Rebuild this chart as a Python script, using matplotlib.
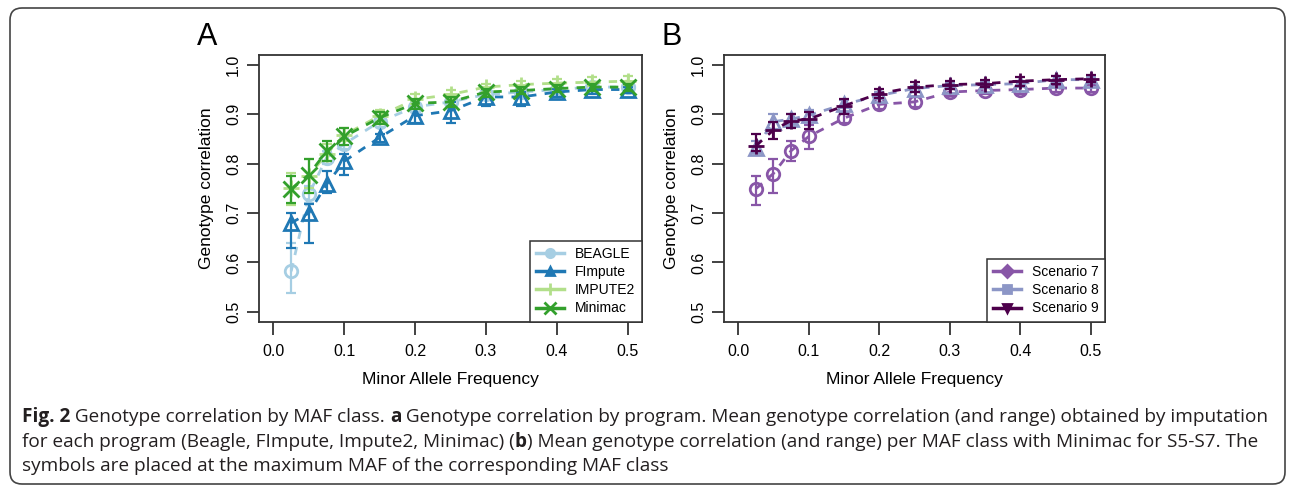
import matplotlib; matplotlib.use('Agg')
import matplotlib.pyplot as plt
from matplotlib.lines import Line2D
from matplotlib.patches import FancyBboxPatch
from matplotlib import font_manager

# MAF classes (symbols placed at max MAF of class)
maf = [0.025, 0.05, 0.075, 0.1, 0.15, 0.2, 0.25, 0.3, 0.35, 0.4, 0.45, 0.5]

# panel A : by program
beagle_mean = [0.582, 0.738, 0.812, 0.840, 0.885, 0.915, 0.925, 0.940, 0.945, 0.950, 0.955, 0.955]
beagle_lo   = [0.538, 0.720, 0.800, 0.830, 0.875, 0.905, 0.915, 0.930, 0.935, 0.940, 0.945, 0.948]
beagle_hi   = [0.640, 0.755, 0.825, 0.852, 0.895, 0.925, 0.935, 0.950, 0.955, 0.958, 0.962, 0.962]
fimpute_mean = [0.680, 0.700, 0.758, 0.805, 0.853, 0.897, 0.907, 0.935, 0.935, 0.945, 0.950, 0.950]
fimpute_lo   = [0.630, 0.640, 0.740, 0.776, 0.843, 0.882, 0.882, 0.917, 0.916, 0.935, 0.940, 0.943]
fimpute_hi   = [0.700, 0.718, 0.785, 0.820, 0.860, 0.910, 0.925, 0.945, 0.945, 0.952, 0.957, 0.955]
impute2_mean = [0.750, 0.775, 0.820, 0.858, 0.897, 0.930, 0.940, 0.955, 0.960, 0.963, 0.965, 0.967]
impute2_lo   = [0.717, 0.750, 0.805, 0.845, 0.885, 0.920, 0.930, 0.945, 0.952, 0.955, 0.958, 0.960]
impute2_hi   = [0.782, 0.810, 0.840, 0.872, 0.908, 0.940, 0.950, 0.962, 0.968, 0.972, 0.975, 0.977]
minimac_mean = [0.748, 0.778, 0.825, 0.855, 0.893, 0.922, 0.925, 0.945, 0.948, 0.952, 0.955, 0.955]
minimac_lo   = [0.720, 0.740, 0.805, 0.838, 0.880, 0.910, 0.915, 0.935, 0.940, 0.945, 0.948, 0.948]
minimac_hi   = [0.775, 0.810, 0.845, 0.872, 0.905, 0.930, 0.935, 0.952, 0.955, 0.960, 0.962, 0.962]

# panel B : Minimac by scenario
s7_mean = [0.749, 0.780, 0.826, 0.855, 0.892, 0.920, 0.925, 0.945, 0.948, 0.950, 0.953, 0.953]
s7_lo   = [0.716, 0.740, 0.805, 0.830, 0.882, 0.910, 0.915, 0.937, 0.940, 0.942, 0.946, 0.946]
s7_hi   = [0.775, 0.810, 0.845, 0.878, 0.902, 0.930, 0.935, 0.952, 0.955, 0.958, 0.960, 0.960]
s8_mean = [0.832, 0.885, 0.890, 0.898, 0.920, 0.938, 0.952, 0.958, 0.960, 0.962, 0.970, 0.970]
s8_lo   = [0.822, 0.870, 0.880, 0.888, 0.912, 0.930, 0.945, 0.952, 0.954, 0.956, 0.963, 0.963]
s8_hi   = [0.845, 0.900, 0.900, 0.908, 0.928, 0.945, 0.958, 0.963, 0.966, 0.968, 0.977, 0.976]
s9_mean = [0.836, 0.868, 0.887, 0.890, 0.917, 0.942, 0.955, 0.960, 0.962, 0.967, 0.970, 0.972]
s9_lo   = [0.825, 0.850, 0.873, 0.870, 0.900, 0.932, 0.945, 0.952, 0.955, 0.958, 0.962, 0.965]
s9_hi   = [0.861, 0.885, 0.900, 0.905, 0.930, 0.952, 0.965, 0.968, 0.970, 0.975, 0.978, 0.980]

xticks = [0.0, 0.1, 0.2, 0.3, 0.4, 0.5]
yticks = [0.5, 0.6, 0.7, 0.8, 0.9, 1.0]

plt.rcParams['font.family'] = ['Liberation Sans', 'DejaVu Sans']
AX_COL = '#333333'

# (label, mean, lo, hi, colour, plot marker, legend marker)
series_a = [('BEAGLE', beagle_mean, beagle_lo, beagle_hi, '#A6CEE3', 'o', 'o'),
            ('FImpute', fimpute_mean, fimpute_lo, fimpute_hi, '#1F78B4', '^', '^'),
            ('IMPUTE2', impute2_mean, impute2_lo, impute2_hi, '#B2DF8A', '+', '+'),
            ('Minimac', minimac_mean, minimac_lo, minimac_hi, '#33A02C', 'x', 'x')]
series_b = [('Scenario 7', s7_mean, s7_lo, s7_hi, '#8856A7', 'o', 'D'),
            ('Scenario 8', s8_mean, s8_lo, s8_hi, '#8C96C6', '^', 's'),
            ('Scenario 9', s9_mean, s9_lo, s9_hi, '#4D004B', '+', 'v')]

fig = plt.figure(figsize=(12.92, 4.9), dpi=100)
axA = fig.add_axes([0.2007, 0.3435, 0.2960, 0.5443])
axB = fig.add_axes([0.5604, 0.3435, 0.2949, 0.5443])

def draw(ax, series):
    handles = []
    for lab, m, lo, hi, col, mk, lmk in series:
        yerr = [[a - b for a, b in zip(m, lo)], [b - a for a, b in zip(m, hi)]]
        ax.errorbar(maf, m, yerr=yerr, color=col, lw=0, elinewidth=1.6, capsize=3.5, capthick=1.6)
        ms = 12 if mk in '+x' else (10 if mk == '^' else 9)
        ax.plot(maf, m, color=col, lw=2, ls=(0, (3, 3)), marker=mk, ms=ms, mew=2,
                mfc='none' if mk in 'o^' else col, mec=col)
        filled = lmk not in '+x'
        handles.append(Line2D([], [], color=col, lw=2.5, marker=lmk,
                              ms=6 if filled else 8, mew=2, mfc=col, mec=col, label=lab))
    ax.set_xlim(-0.02, 0.52); ax.set_ylim(0.48, 1.02)
    ax.set_xticks(xticks); ax.set_xticklabels([f'{t:.1f}' for t in xticks])
    ax.set_yticks(yticks); ax.set_yticklabels([f'{t:.1f}' for t in yticks], rotation=90, va='center')
    ax.tick_params(axis='both', length=9, width=1.3, color=AX_COL, labelsize=11.5)
    ax.tick_params(axis='x', pad=7); ax.tick_params(axis='y', pad=4)
    for s in ax.spines.values():
        s.set_linewidth(1.3); s.set_color(AX_COL)
    ax.set_xlabel('Minor Allele Frequency', fontsize=12.5)
    ax.set_ylabel('Genotype correlation', fontsize=12.5)
    ax.xaxis.set_label_coords(0.5, -0.215); ax.xaxis.label.set_va('center')
    ax.yaxis.set_label_coords(-0.137, 0.5); ax.yaxis.label.set_va('center')
    leg = ax.legend(handles=handles, loc='lower right', borderaxespad=0, fontsize=10,
                    handlelength=2.0, handletextpad=0.8, labelspacing=0.3, borderpad=0.45,
                    fancybox=False, framealpha=1, edgecolor=AX_COL)
    leg.get_frame().set_linewidth(1.1)

draw(axA, series_a)
draw(axB, series_b)

fig.text(207 / 1292, 1 - 37 / 490, 'A', fontsize=22, ha='center', va='center')
fig.text(672 / 1292, 1 - 37 / 490, 'B', fontsize=22, ha='center', va='center')

# rounded frame round the whole figure
fig.patches.append(FancyBboxPatch((0.19, 0.15), 12.57, 4.58, boxstyle='round,pad=0.09,rounding_size=0.12',
                                  transform=fig.dpi_scale_trans, fill=False, lw=1.2, ec='#444444'))

# caption, with bold runs
names = {f.name for f in font_manager.fontManager.ttflist}
cap_font = 'Liberation Sans Narrow' if 'Liberation Sans Narrow' in names else 'Open Sans'
cap_lines = [
    [('Fig. 2', 'bold'), (' Genotype correlation by MAF class. ', 'normal'), ('a', 'bold'),
     (' Genotype correlation by program. Mean genotype correlation (and range) obtained by imputation', 'normal')],
    [('for each program (Beagle, FImpute, Impute2, Minimac) (', 'normal'), ('b', 'bold'),
     (') Mean genotype correlation (and range) per MAF class with Minimac for S5-S7. The', 'normal')],
    [('symbols are placed at the maximum MAF of the corresponding MAF class', 'normal')],
]
cap_y = [417, 442, 466]
renderer = fig.canvas.get_renderer()

def put_line(runs, y, size):
    x = 22.0
    for txt, w in runs:
        t = fig.text(x / 1292, 1 - y / 490, txt, fontsize=size, fontweight=w, family=cap_font,
                     color='#231f20', ha='left', va='center')
        x += t.get_window_extent(renderer).width
    return x - 22.0

probe = put_line(cap_lines[0], -100, 10)
for t in list(fig.texts)[-len(cap_lines[0]):]:
    t.remove()
cap_size = 10 * 1248 / probe
for runs, y in zip(cap_lines, cap_y):
    put_line(runs, y, cap_size)

fig.savefig('out.png', dpi=100)
